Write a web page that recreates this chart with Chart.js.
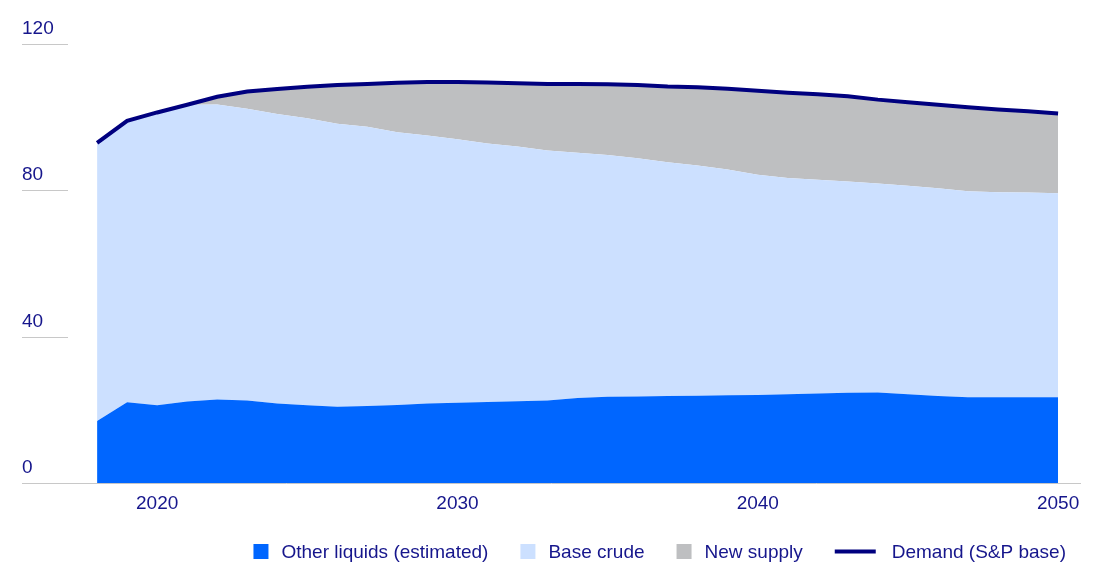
<!DOCTYPE html>
<html>
<head>
<meta charset="utf-8">
<title>Liquids supply and demand outlook</title>
<script src="https://cdn.jsdelivr.net/npm/chart.js@4.4.1/dist/chart.umd.min.js"></script>
<style>
  html, body { margin: 0; padding: 0; background: #ffffff; }
  #wrap { position: relative; width: 1110px; height: 564px; }
</style>
</head>
<body>
<div id="wrap"><canvas id="chart" width="1110" height="564"></canvas></div>
<script>
// Years on the horizontal axis
const years = [2018, 2019, 2020, 2021, 2022, 2023, 2024, 2025, 2026, 2027, 2028,
  2029, 2030, 2031, 2032, 2033, 2034, 2035, 2036, 2037, 2038, 2039, 2040,
  2041, 2042, 2043, 2044, 2045, 2046, 2047, 2048, 2049, 2050];

// Supply components (stacked), million b/d
const otherLiquids = [17.0, 22.1, 21.3, 22.3, 22.9, 22.6, 21.8, 21.3, 20.9, 21.1, 21.4,
  21.8, 22.0, 22.2, 22.4, 22.6, 23.3, 23.6, 23.7, 23.8, 23.9, 24.0, 24.1,
  24.3, 24.5, 24.7, 24.8, 24.3, 23.8, 23.5, 23.5, 23.5, 23.5];

const baseCrude = [76.0, 76.9, 80.0, 81.1, 80.6, 79.7, 79.1, 78.4, 77.3, 76.3, 74.5,
  73.2, 72.0, 70.6, 69.6, 68.3, 67.0, 66.1, 65.1, 63.9, 62.9, 61.7, 60.2,
  59.1, 58.4, 57.7, 57.1, 57.0, 56.8, 56.3, 56.0, 55.9, 55.7];

const newSupply = [0, 0, 0, 0, 2.1, 4.7, 6.8, 8.6, 10.6, 11.7, 13.5,
  14.6, 15.6, 16.7, 17.3, 18.2, 18.8, 19.3, 20.0, 20.7, 21.4, 22.1, 22.9,
  23.3, 23.4, 23.3, 22.9, 22.8, 22.8, 22.9, 22.6, 22.2, 21.8];

// Total demand line
const demand = [93.0, 99.0, 101.3, 103.4, 105.6, 107.0, 107.7, 108.3, 108.8, 109.1, 109.4,
  109.6, 109.6, 109.5, 109.3, 109.1, 109.1, 109.0, 108.8, 108.4, 108.2, 107.8, 107.2,
  106.7, 106.3, 105.7, 104.8, 104.1, 103.4, 102.7, 102.1, 101.6, 101.0];

// Axis ticks
const xTickYears = [2020, 2030, 2040, 2050];
const yTickValues = [0, 40, 80, 120];

const TEXT = '#16168c';
const FONT = '"Liberation Sans", Arial, sans-serif';

const toPoints = arr => arr.map((v, i) => ({ x: years[i], y: v }));

// Short grid stubs with labels sitting above them on the left edge
const yStubPlugin = {
  id: 'yStubs',
  afterDraw(chart) {
    const { ctx, chartArea } = chart;
    const y = chart.scales.y;
    ctx.save();
    ctx.font = '19px ' + FONT;
    ctx.fillStyle = TEXT;
    ctx.textAlign = 'left';
    ctx.textBaseline = 'alphabetic';
    yTickValues.forEach(v => {
      const py = Math.round(y.getPixelForValue(v)) + 0.5;
      if (v !== 0) {
        ctx.strokeStyle = '#c8c8c8';
        ctx.lineWidth = 1;
        ctx.beginPath();
        ctx.moveTo(chartArea.left, py);
        ctx.lineTo(chartArea.left + 46, py);
        ctx.stroke();
      }
      ctx.fillText(String(v), chartArea.left, py - 11);
    });
    ctx.restore();
  }
};

// Legend row along the bottom
const legendPlugin = {
  id: 'bottomLegend',
  afterDraw(chart) {
    const { ctx, chartArea } = chart;
    const ds = chart.data.datasets;
    const order = [1, 2, 3, 0];
    const boxW = 15, textGap = 13, itemGap = 32, lineW = 41, lineGap = 16;
    const cy = 551.5;
    ctx.save();
    ctx.font = '19px ' + FONT;
    ctx.textBaseline = 'middle';
    ctx.textAlign = 'left';
    const items = order.map(i => {
      const d = ds[i];
      const isLine = d.fill === false;
      const tw = ctx.measureText(d.label).width;
      const mw = isLine ? lineW + lineGap : boxW + textGap;
      return { d, isLine, tw, w: mw + tw };
    });
    const total = items.reduce((s, it) => s + it.w, 0) + itemGap * (items.length - 1);
    let x = chartArea.right - 14 - total;
    items.forEach(it => {
      if (it.isLine) {
        ctx.strokeStyle = it.d.borderColor;
        ctx.lineWidth = 4;
        ctx.beginPath();
        ctx.moveTo(x, cy);
        ctx.lineTo(x + lineW, cy);
        ctx.stroke();
        x += lineW + lineGap;
      } else {
        ctx.fillStyle = it.d.backgroundColor;
        ctx.fillRect(x, cy - 7.5, boxW, boxW);
        x += boxW + textGap;
      }
      ctx.fillStyle = TEXT;
      ctx.fillText(it.d.label, x, cy + 1);
      x += it.tw + itemGap;
    });
    ctx.restore();
  }
};

new Chart(document.getElementById('chart'), {
  type: 'line',
  data: {
    datasets: [
      {
        label: 'Demand (S&P base)',
        data: toPoints(demand),
        stack: 'demand',
        borderColor: '#00007f',
        borderWidth: 4,
        fill: false,
        pointRadius: 0,
        tension: 0,
        order: 0
      },
      {
        label: 'Other liquids (estimated)',
        data: toPoints(otherLiquids),
        stack: 'supply',
        backgroundColor: '#0066ff',
        borderWidth: 0,
        fill: 'origin',
        pointRadius: 0,
        tension: 0,
        order: 1
      },
      {
        label: 'Base crude',
        data: toPoints(baseCrude),
        stack: 'supply',
        backgroundColor: '#cce0ff',
        borderWidth: 0,
        fill: '-1',
        pointRadius: 0,
        tension: 0,
        order: 2
      },
      {
        label: 'New supply',
        data: toPoints(newSupply),
        stack: 'supply',
        backgroundColor: '#bebfc1',
        borderWidth: 0,
        fill: '-1',
        pointRadius: 0,
        tension: 0,
        order: 3
      }
    ]
  },
  options: {
    responsive: false,
    animation: false,
    events: [],
    layout: { padding: { left: 22, right: 30, top: 44, bottom: 40 } },
    plugins: {
      legend: { display: false },
      tooltip: { enabled: false }
    },
    scales: {
      x: {
        type: 'linear',
        min: 2015.5,
        max: 2050.73,
        grid: { display: false, drawTicks: false },
        border: { display: true, color: '#c8c8c8', width: 1 },
        afterBuildTicks(scale) {
          scale.ticks = xTickYears.map(v => ({ value: v }));
        },
        ticks: {
          autoSkip: false,
          maxRotation: 0,
          padding: 9,
          color: TEXT,
          font: { family: FONT, size: 19 },
          callback: v => String(v)
        }
      },
      y: {
        display: false,
        stacked: true,
        min: 0,
        max: 120
      }
    }
  },
  plugins: [yStubPlugin, legendPlugin]
});
</script>
</body>
</html>
